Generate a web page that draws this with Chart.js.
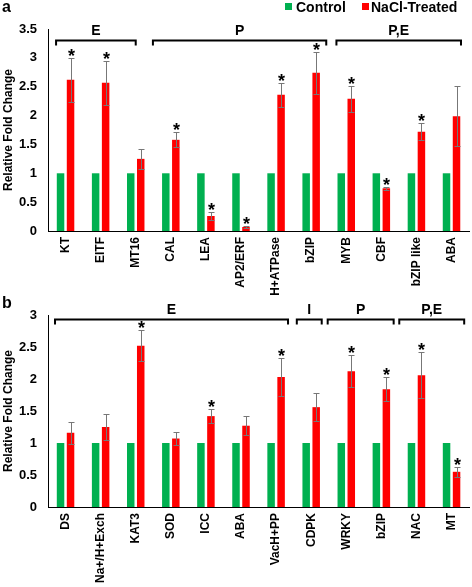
<!DOCTYPE html>
<html lang="en">
<head>
  <meta charset="UTF-8" />
  <title>Relative Fold Change - Control vs NaCl-Treated</title>
  <script src="https://cdn.jsdelivr.net/npm/chart.js@4.4.0"></script>
  <style>
    body {
      margin: 0;
      background: #fff;
      font-family: Arial, 'Liberation Sans', sans-serif;
    }
    .page { position: relative; width: 472px; height: 587px; overflow: hidden; }
    .panel { position: absolute; left: 0; width: 472px; }
    #panelA { top: 0; height: 300px; }
    #panelB { top: 290px; height: 297px; }
    canvas { display: block; }
    .tag {
      position: absolute; left: 2px;
      font-weight: bold; font-size: 16px; line-height: 16px;
    }
    .key {
      position: absolute; top: 0;
      font-weight: bold; font-size: 14px; line-height: 14px; white-space: nowrap;
    }
    .swatch { position: absolute; top: 3px; width: 7px; height: 7px; }
  </style>
</head>
<body>
  <div class="page">
    <div class="panel" id="panelA"><canvas id="chartA" width="472" height="300"></canvas></div>
    <div class="panel" id="panelB"><canvas id="chartB" width="472" height="297"></canvas></div>

    <div class="tag" style="top:-1px">a</div>
    <div class="tag" style="top:295px">b</div>

    <div class="swatch" style="left:285px; background:#00b050"></div>
    <div class="key" style="left:296px">Control</div>
    <div class="swatch" style="left:362px; background:#ff0000"></div>
    <div class="key" style="left:371px">NaCl-Treated</div>
  </div>

  <script>
    // panel a
    const genesA = ['KT', 'EITF', 'MT16', 'CAL', 'LEA', 'AP2/ERF', 'H+ATPase', 'bZIP', 'MYB', 'CBF', 'bZIP like', 'ABA'];
    const controlA = [1, 1, 1, 1, 1, 1, 1, 1, 1, 1, 1, 1];
    const naclA = [2.62, 2.57, 1.25, 1.58, 0.26, 0.07, 2.36, 2.74, 2.29, 0.74, 1.72, 1.99];
    const naclErrA = [0.38, 0.38, 0.17, 0.13, 0.07, 0.01, 0.21, 0.37, 0.22, 0.03, 0.15, 0.52];
    const signifA = [1, 1, 0, 1, 1, 1, 1, 1, 1, 1, 1, 0];
    const groupsA = [
      { label: 'E', from: -0.27, to: 2.0 },
      { label: 'P', from: 2.49, to: 7.43 },
      { label: 'P,E', from: 7.72, to: 11.27 }
    ];

    // panel b
    const genesB = ['DS', 'Na+/H+Exch', 'KAT3', 'SOD', 'ICC', 'ABA', 'VacH+PP', 'CDPK', 'WRKY', 'bZIP', 'NAC', 'MT'];
    const controlB = [1, 1, 1, 1, 1, 1, 1, 1, 1, 1, 1, 1];
    const naclB = [1.16, 1.25, 2.52, 1.07, 1.42, 1.27, 2.03, 1.56, 2.12, 1.84, 2.06, 0.55];
    const naclErrB = [0.17, 0.2, 0.24, 0.1, 0.11, 0.15, 0.3, 0.22, 0.25, 0.19, 0.36, 0.08];
    const signifB = [0, 0, 1, 0, 1, 0, 1, 0, 1, 1, 1, 1];
    const groupsB = [
      { label: 'E', from: -0.3, to: 6.34 },
      { label: 'I', from: 6.59, to: 7.3 },
      { label: 'P', from: 7.47, to: 9.35 },
      { label: 'P,E', from: 9.51, to: 11.36 }
    ];

    const FONT = "Arial, 'Liberation Sans', sans-serif";

    // error bars, stars and group brackets on top of the bars
    function makeAnnotate(values, errors, signif, groups, bracketAt, labelAt) {
      return {
        id: 'annotate',
        afterDatasetsDraw(chart) {
          const ctx = chart.ctx;
          const xs = chart.scales.x, ys = chart.scales.y;
          const meta = chart.getDatasetMeta(1);
          ctx.save();
          values.forEach((v, i) => {
            const bx = Math.round(meta.data[i].x) + 0.5;
            const top = Math.round(ys.getPixelForValue(v + errors[i])) + 0.5;
            const bot = Math.round(ys.getPixelForValue(v - errors[i])) + 0.5;
            ctx.strokeStyle = '#777';
            ctx.lineWidth = 1;
            ctx.beginPath();
            ctx.moveTo(bx, top); ctx.lineTo(bx, bot);
            ctx.moveTo(bx - 3, top); ctx.lineTo(bx + 3, top);
            ctx.moveTo(bx - 3, bot); ctx.lineTo(bx + 3, bot);
            ctx.stroke();
            if (signif[i]) {
              ctx.fillStyle = '#000';
              ctx.font = 'bold 18px ' + FONT;
              ctx.textAlign = 'center';
              ctx.textBaseline = 'alphabetic';
              ctx.fillText('*', bx, top + 3);
            }
          });

          const by = ys.getPixelForValue(bracketAt);
          const ly = ys.getPixelForValue(labelAt);
          ctx.strokeStyle = '#000';
          ctx.lineWidth = 2;
          ctx.fillStyle = '#000';
          ctx.font = 'bold 14px ' + FONT;
          ctx.textAlign = 'center';
          ctx.textBaseline = 'middle';
          groups.forEach(g => {
            const x0 = xs.getPixelForValue(g.from);
            const x1 = xs.getPixelForValue(g.to);
            ctx.beginPath();
            ctx.moveTo(x0, by + 5);
            ctx.lineTo(x0, by);
            ctx.lineTo(x1, by);
            ctx.lineTo(x1, by + 5);
            ctx.stroke();
            ctx.fillText(g.label, (x0 + x1) / 2, ly);
          });
          ctx.restore();
        }
      };
    }

    function buildChart(canvasId, labels, control, nacl, yMax, pad, xHeight, annotate) {
      return new Chart(document.getElementById(canvasId), {
        type: 'bar',
        data: {
          labels: labels,
          datasets: [
            { label: 'Control', data: control, backgroundColor: '#00b050', borderWidth: 0 },
            { label: 'NaCl-Treated', data: nacl, backgroundColor: '#ff0000', borderWidth: 0 }
          ]
        },
        options: {
          responsive: false,
          animation: false,
          layout: { padding: pad },
          datasets: { bar: { categoryPercentage: 0.57, barPercentage: 0.75 } },
          scales: {
            x: {
              grid: { display: false, drawTicks: false },
              border: { display: true, color: '#000', width: 1 },
              ticks: {
                color: '#000', font: { family: FONT, size: 12, weight: 'bold' },
                minRotation: 90, maxRotation: 90, padding: 6, autoSkip: false
              },
              afterFit: s => { s.height = xHeight; }
            },
            y: {
              min: 0, max: yMax,
              grid: { display: false, drawTicks: false },
              border: { display: true, color: '#000', width: 1 },
              ticks: {
                stepSize: 0.5, color: '#000', padding: 11,
                font: { family: FONT, size: 13, weight: 'bold' },
                callback: v => String(v)
              },
              title: {
                display: true, text: 'Relative Fold Change', color: '#000',
                font: { family: FONT, size: 12, weight: 'bold' },
                padding: { top: 1, bottom: 0 }
              },
              afterFit: s => { s.width = 48; }
            }
          },
          plugins: { legend: { display: false }, tooltip: { enabled: false } }
        },
        plugins: [annotate]
      });
    }

    buildChart('chartA', genesA, controlA, naclA, 3.5,
      { top: 29, left: 0, right: 2, bottom: 0 }, 69,
      makeAnnotate(naclA, naclErrA, signifA, groupsA, 3.30, 3.47));

    buildChart('chartB', genesB, controlB, naclB, 3,
      { top: 25, left: 0, right: 1, bottom: 0 }, 80,
      makeAnnotate(naclB, naclErrB, signifB, groupsB, 2.93, 3.08));
  </script>
</body>
</html>
